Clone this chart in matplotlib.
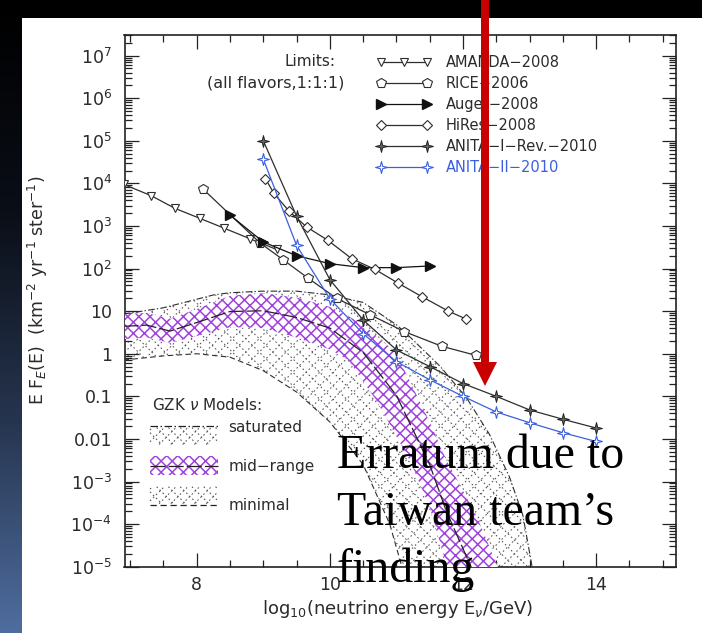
import numpy as np
import matplotlib
matplotlib.use("Agg")
import matplotlib.pyplot as plt
from matplotlib.colors import LinearSegmentedColormap
from matplotlib.collections import LineCollection
from matplotlib.legend_handler import HandlerBase, HandlerLine2D
from matplotlib.lines import Line2D
from matplotlib.patches import Polygon, Rectangle
from matplotlib.path import Path
from matplotlib.ticker import FixedLocator, LogLocator, NullFormatter

plt.rcParams['font.family'] = ['DejaVu Sans']
plt.rcParams['mathtext.fontset'] = 'dejavusans'
plt.rcParams['hatch.linewidth'] = 1.1

# ---------------- data: x = log10(E/GeV), y = E F(E) [km^-2 yr^-1 sr^-1] ----------------
amanda_x = [6.90, 7.32, 7.67, 8.05, 8.41, 8.80, 9.20]
amanda_y = [9.5e3, 5.1e3, 2.6e3, 1.5e3, 8.9e2, 5.0e2, 2.8e2]

rice_x = [8.10, 8.95, 9.30, 9.67, 10.10, 10.60, 11.12, 11.68, 12.20]
rice_y = [7.2e3, 4.0e2, 1.6e2, 6.0e1, 2.0e1, 8.3, 3.3, 1.5, 0.91]

auger_x = [8.5, 9.0, 9.5, 10.0, 10.5, 11.0, 11.5]
auger_y = [1.8e3, 4.2e2, 2.0e2, 1.3e2, 1.05e2, 1.05e2, 1.15e2]

hires_x = [9.03, 9.16, 9.39, 9.65, 9.97, 10.33, 10.68, 11.03, 11.38, 11.78, 12.05]
hires_y = [1.3e4, 5.8e3, 2.2e3, 9.5e2, 4.6e2, 1.7e2, 95, 45, 22, 10, 6.5]

anita1_x = [9.0, 9.5, 10.0, 10.5, 11.0, 11.5, 12.0, 12.5, 13.0, 13.5, 14.0]
anita1_y = [1.0e5, 1.7e3, 55, 6.2, 1.23, 0.50, 0.20, 0.10, 0.048, 0.029, 0.018]

anita2_x = [9.0, 9.5, 10.0, 10.5, 11.0, 11.5, 12.0, 12.5, 13.0, 13.5, 14.0]
anita2_y = [3.7e4, 350, 19.5, 2.95, 0.65, 0.245, 0.10, 0.043, 0.024, 0.014, 0.0087]

# GZK neutrino model envelopes
saturated_x = [6.9, 7.5, 8.0, 8.25, 8.5, 9.0, 9.5, 10.0, 10.5, 11.0, 11.2, 11.66, 12.06, 12.4, 12.7, 12.9, 13.05]
saturated_y = [8.5, 12, 19, 24, 27, 29.5, 29.5, 24, 16, 4.8, 2.5, 0.5, 0.089, 0.0126, 1.26e-3, 1.6e-4, 7.9e-6]

minimal_x = [6.9, 7.5, 8.0, 8.5, 9.0, 9.5, 10.0, 10.5, 10.9, 11.1]
minimal_y = [0.71, 0.89, 1.0, 0.83, 0.40, 0.126, 0.025, 2.5e-3, 1.0e-4, 7.9e-6]

mid_hi_x = [6.9, 7.25, 7.6, 8.0, 8.5, 9.0, 9.5, 10.0, 10.5, 11.0, 11.5, 11.75, 12.2, 12.55]
mid_hi_y = [8.5, 9.1, 6.6, 11.2, 22.9, 26.3, 20.9, 12.6, 5.0, 1.0, 0.025, 3.2e-3, 1.6e-4, 7.9e-6]

mid_lo_x = [6.9, 7.25, 7.6, 8.0, 8.5, 9.0, 9.5, 10.0, 10.28, 10.7, 11.2, 11.5, 11.78]
mid_lo_y = [2.2, 2.4, 1.8, 2.6, 4.2, 4.0, 2.4, 1.26, 0.71, 0.079, 3.2e-3, 2.5e-4, 7.9e-6]

mid_x = [6.9, 7.25, 7.6, 8.0, 8.5, 9.0, 9.5, 10.0, 10.5, 11.0, 11.5, 11.75, 12.15]
mid_y = [4.4, 4.7, 3.4, 5.4, 9.8, 10.2, 7.1, 4.0, 1.07, 0.105, 2.5e-3, 2.0e-4, 7.9e-6]

# axis ticks
x_major = [8, 10, 12, 14]
x_labels = ['8', '10', '12', '14']
x_minor = list(np.arange(7.0, 15.01, 0.5))
y_major = [1e-5, 1e-4, 1e-3, 1e-2, 1e-1, 1, 10, 1e2, 1e3, 1e4, 1e5, 1e6, 1e7]
y_labels = ['$10^{-5}$', '$10^{-4}$', '$10^{-3}$', '0.01', '0.1', '1', '10',
            '$10^{2}$', '$10^{3}$', '$10^{4}$', '$10^{5}$', '$10^{6}$', '$10^{7}$']

# ---------------- styling ----------------
W, H = 702, 633
TXT = '#2b2b2b'
LINE = '#2e2e2e'
BLUE = '#3a5fe0'
PURPLE = '#a042dc'

fig = plt.figure(figsize=(W / 100, H / 100), dpi=100)
fig.patch.set_facecolor('black')

# slide-style backdrop: dark gradient strip on the left, white panel
bg = fig.add_axes([0, 0, 1, 1], zorder=0)
bg.set_axis_off()
strip = np.linspace(0, 1, 256).reshape(-1, 1)
cm_strip = LinearSegmentedColormap.from_list('strip', ['#000000', '#0a0e17', '#26354f', '#4f6d9f'])
bg.imshow(strip, cmap=cm_strip, extent=[0, 22, H, 0], aspect='auto', interpolation='bilinear')
bg.add_patch(Rectangle((22, 18), W - 22, H - 18, facecolor='white', edgecolor='none'))
bg.set_xlim(0, W)
bg.set_ylim(H, 0)

# main axes, placed in pixel terms
L, R, T, B = 124.5, 676.0, 34.7, 566.7
ax = fig.add_axes([L / W, 1 - B / H, (R - L) / W, (B - T) / H], zorder=1)
ax.set_yscale('log')
ax.set_xlim(6.915, 15.2)
ax.set_ylim(1e-5, 10 ** 7.49)

aw, ah = R - L, B - T


def cross_segments(x0, y0, x1, y1, step):
    """Two families of 45-degree lines filling a rectangle (same units on both axes)."""
    segs = []
    d = step * np.sqrt(2)
    for c in np.arange(y0 - x1, y1 - x0 + d, d):          # y = x + c
        xa, xb = max(x0, y0 - c), min(x1, y1 - c)
        if xb > xa:
            segs.append([(xa, xa + c), (xb, xb + c)])
    for c in np.arange(y0 + x0, y1 + x1 + d, d):          # y = -x + c
        xa, xb = max(x0, c - y1), min(x1, c - y0)
        if xb > xa:
            segs.append([(xa, c - xa), (xb, c - xb)])
    return segs


DOT_LS = (0, (1.5, 2.6))
DOT_C = '#505050'

# dotted cross-hatched envelope between minimal and saturated models
env = ax.fill(list(saturated_x) + list(minimal_x)[::-1],
              list(saturated_y) + list(minimal_y)[::-1],
              facecolor='none', edgecolor='none', zorder=1)[0]
segs_px = cross_segments(0, 0, aw, ah, 9.5)
segs_ax = [[(p[0] / aw, p[1] / ah) for p in s] for s in segs_px]
dots = LineCollection(segs_ax, colors=DOT_C, linewidths=0.75, linestyles=[DOT_LS],
                      transform=ax.transAxes, zorder=1)
dots.set_clip_path(env)
ax.add_collection(dots)
dots.set_clip_box(ax.bbox)

ax.plot(saturated_x, saturated_y, color=LINE, lw=0.8, dashes=(6, 2, 1.2, 2), zorder=2)
ax.plot(minimal_x, minimal_y, color=LINE, lw=0.8, dashes=(5, 3), zorder=2)

# mid-range band: purple cross-hatch
ax.fill(list(mid_hi_x) + list(mid_lo_x)[::-1], list(mid_hi_y) + list(mid_lo_y)[::-1],
        facecolor='white', edgecolor=PURPLE, hatch='xxx', linewidth=0, zorder=3)
ax.plot(mid_x, mid_y, color='#222222', lw=0.9, dashes=(12, 2.5), zorder=4)

# 4-point star marker for the ANITA limits
star_verts = [(0, 1), (0.2, 0.2), (1, 0), (0.2, -0.2), (0, -1), (-0.2, -0.2), (-1, 0), (-0.2, 0.2), (0, 1)]
star = Path(star_verts, [Path.MOVETO] + [Path.LINETO] * 7 + [Path.CLOSEPOLY])

l_amanda, = ax.plot(amanda_x, amanda_y, color=LINE, lw=0.9, marker='v', ms=6, mfc='white',
                    mec=LINE, mew=0.8, label='AMANDA\u22122008', zorder=6)
l_rice, = ax.plot(rice_x, rice_y, color=LINE, lw=0.9, marker='p', ms=7.2, mfc='white',
                  mec=LINE, mew=0.8, label='RICE\u22122006', zorder=6)
l_auger, = ax.plot(auger_x, auger_y, color='#111111', lw=0.9, marker='>', ms=6.5, mfc='#111111',
                   mec='#111111', label='Auger\u22122008', zorder=6)
l_hires, = ax.plot(hires_x, hires_y, color=LINE, lw=0.9, marker='D', ms=5, mfc='white',
                   mec=LINE, mew=0.8, label='HiRes\u22122008', zorder=6)
l_anita1, = ax.plot(anita1_x, anita1_y, color=LINE, lw=0.9, marker=star, ms=8.5, mfc='#666666',
                    mec='#222222', mew=0.7, label='ANITA\u2212I\u2212Rev.\u22122010', zorder=7)
l_anita2, = ax.plot(anita2_x, anita2_y, color=BLUE, lw=0.9, marker=star, ms=8.5, mfc='white',
                    mec=BLUE, mew=0.8, label='ANITA\u2212II\u22122010', zorder=7)

# ---------------- axes cosmetics ----------------
ax.set_xticks(x_major)
ax.set_xticklabels(x_labels)
ax.xaxis.set_minor_locator(FixedLocator(x_minor))
ax.set_yticks(y_major)
ax.set_yticklabels(y_labels)
ax.yaxis.set_minor_locator(LogLocator(base=10, subs=np.arange(2, 10), numticks=100))
ax.yaxis.set_minor_formatter(NullFormatter())
ax.tick_params(which='both', direction='in', top=True, right=True, color='#222222',
               width=0.9, labelcolor=TXT)
ax.tick_params(which='major', length=10, labelsize=12.5)
ax.tick_params(which='minor', length=5)
ax.tick_params(axis='y', which='major', pad=9)
ax.tick_params(axis='x', which='major', pad=7)
for sp in ax.spines.values():
    sp.set_linewidth(1.2)
    sp.set_color('#222222')

ax.set_xlabel('log$_{10}$(neutrino energy E$_{\\nu}$/GeV)', fontsize=13, color=TXT)
ax.xaxis.set_label_coords(0.496, -0.058)
ax.set_ylabel('E F$_{E}$(E)  (km$^{-2}$ yr$^{-1}$ ster$^{-1}$)', fontsize=12.5, color=TXT)
ax.yaxis.set_label_coords(-0.135, 0.52)


def ax_frac(px, py):
    return (px - L) / aw, 1 - (py - T) / ah


# limits legend
leg1 = ax.legend(handles=[l_amanda, l_rice, l_auger, l_hires, l_anita1, l_anita2],
                 loc='upper left', bbox_to_anchor=ax_frac(376.7, 55.0), frameon=False,
                 fontsize=10.5, handlelength=3.75, handletextpad=1.0, labelspacing=0.41,
                 borderpad=0, borderaxespad=0, numpoints=2,
                 handler_map={l_amanda: HandlerLine2D(numpoints=3)})
for t in leg1.get_texts():
    t.set_color(TXT)
leg1.get_texts()[-1].set_color(BLUE)
ax.add_artist(leg1)

ax.text(*ax_frac(310, 61), 'Limits:', transform=ax.transAxes, ha='center', va='center',
        fontsize=11, color=TXT)
ax.text(*ax_frac(276, 83), '(all flavors,1:1:1)', transform=ax.transAxes, ha='center',
        va='center', fontsize=11.5, color=TXT)


# GZK model legend with hatched keys
class GZKKey(HandlerBase):
    def __init__(self, kind, where, dashes):
        super().__init__()
        self.kind, self.where, self.dashes = kind, where, dashes

    def create_artists(self, legend, orig_handle, xdescent, ydescent, width, height,
                       fontsize, trans):
        x0 = -xdescent
        yc = -ydescent + height / 2
        bh = 1.2 * fontsize
        if self.where == 'below':
            y0, y1 = yc - bh, yc - 1
        elif self.where == 'above':
            y0, y1 = yc + 1, yc + bh
        else:
            y0, y1 = yc - bh / 2, yc + bh / 2
        arts = []
        if self.kind == 'dots':
            segs = cross_segments(x0, y0, x0 + width, y1, 6.0)
            lc = LineCollection(segs, colors=DOT_C, linewidths=0.75, linestyles=[DOT_LS])
            lc.set_transform(trans)
            arts.append(lc)
        else:
            r = Rectangle((x0, y0), width, y1 - y0, facecolor='white', edgecolor=PURPLE,
                          hatch='xxx', linewidth=0)
            r.set_transform(trans)
            arts.append(r)
        ln = Line2D([x0, x0 + width], [yc, yc], color='#222222', lw=0.9, dashes=self.dashes)
        ln.set_transform(trans)
        arts.append(ln)
        return arts


h_sat, h_mid, h_min = Line2D([], []), Line2D([], []), Line2D([], [])
leg2 = ax.legend(handles=[h_sat, h_mid, h_min], labels=['saturated', 'mid\u2212range', 'minimal'],
                 loc='upper left', bbox_to_anchor=ax_frac(150, 419.5), frameon=False,
                 fontsize=11, handlelength=4.45, handleheight=0.7, handletextpad=0.67,
                 labelspacing=1.6, borderpad=0, borderaxespad=0,
                 handler_map={h_sat: GZKKey('dots', 'below', (6, 2, 1.2, 2)),
                              h_mid: GZKKey('purple', 'center', (12, 2.5)),
                              h_min: GZKKey('dots', 'above', (5, 3))})
for t in leg2.get_texts():
    t.set_color(TXT)
ax.text(*ax_frac(151.5, 405), 'GZK $\\nu$ Models:', transform=ax.transAxes, ha='left',
        va='center', fontsize=11, color=TXT)

# ---------------- overlay: red arrow and erratum note ----------------
ov = fig.add_axes([0, 0, 1, 1], zorder=5)
ov.set_axis_off()
ov.patch.set_alpha(0)
ov.set_xlim(0, W)
ov.set_ylim(H, 0)
ov.add_patch(Polygon([(481, -2), (489, -2), (489, 362), (497, 362), (485, 386), (473, 362),
                      (481, 362)], closed=True, facecolor='#c80000', edgecolor='none'))
for i, line in enumerate(['Erratum due to', 'Taiwan team\u2019s', 'finding']):
    ov.text(337, 468 + 57 * i, line, fontfamily='Liberation Serif', fontsize=34.5,
            ha='left', va='baseline', color='black')

fig.savefig('out.png', dpi=100, facecolor=fig.get_facecolor())
